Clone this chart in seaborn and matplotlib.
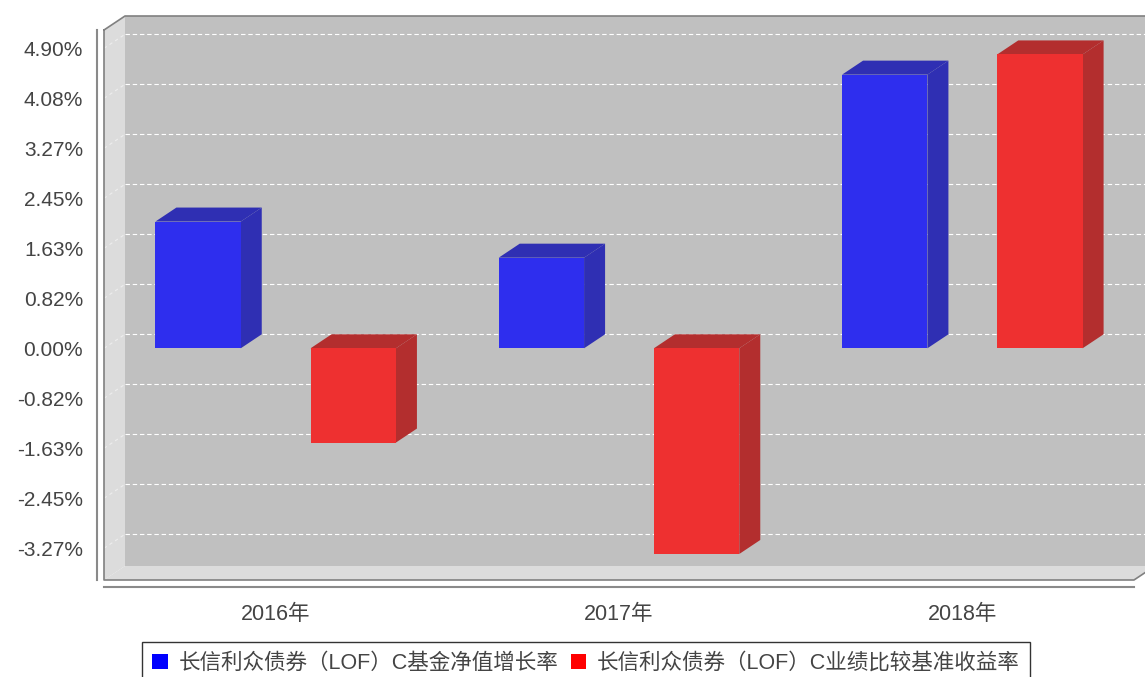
import matplotlib
matplotlib.use("Agg")
import matplotlib.pyplot as plt
import matplotlib.transforms as mtransforms
from matplotlib.patches import Polygon, Patch
from matplotlib.lines import Line2D
import numpy as np
import pandas as pd
import seaborn as sns

# data (percent)
years = ["2016年", "2017年", "2018年"]
fund_growth = [2.07, 1.48, 4.47]
benchmark = [-1.54, -3.36, 4.80]
series_names = ["长信利众债券（LOF）C基金净值增长率",
                "长信利众债券（LOF）C业绩比较基准收益率"]
y_ticks = [i * 4.90 / 6 for i in range(-4, 7)]

front_colors = ["#2E2EEE", "#EE3030"]
dark_colors = ["#2F2FB3", "#B32E2E"]
legend_colors = ["#0000FF", "#FF0000"]

df = pd.DataFrame({
    "year": years * 2,
    "value": fund_growth + benchmark,
    "series": [series_names[0]] * len(years) + [series_names[1]] * len(years),
})

sns.set_style("white")
plt.rcParams["font.family"] = ["Liberation Sans", "Noto Sans CJK SC"]

W, H = 1145, 677
fig = plt.figure(figsize=(W / 100, H / 100), dpi=100)
# front face of the 3d plot area, in pixels
left, right, top, bottom = 104, 1134, 30, 580
ax = fig.add_axes([left / W, (H - bottom) / H, (right - left) / W, (bottom - top) / H])
ax.set_facecolor("none")

sns.barplot(data=df, x="year", y="value", hue="series", palette=front_colors,
            width=0.904, gap=0.45, legend=False, ax=ax, linewidth=0, saturation=1)
ax.set_xlim(-0.5, 2.5)
ax.set_ylim(-3.785, 5.199)
ax.set_xlabel("")
ax.set_ylabel("")

# 3d depth offset: 21px right, 14px up
back = ax.transData + mtransforms.ScaledTranslation(0.21, 0.14, fig.dpi_scale_trans)
fl = ax.transData.transform
bk = back.transform
ident = mtransforms.IdentityTransform()


def face(pts, color, z):
    ax.add_patch(Polygon(pts, closed=True, facecolor=color, edgecolor="none",
                         transform=ident, zorder=z, clip_on=False))


x0, x1 = ax.get_xlim()
y0, y1 = ax.get_ylim()

# walls
face(bk([(x0, y0), (x1, y0), (x1, y1), (x0, y1)]), "#C0C0C0", 0)
face(np.vstack([fl([(x0, y0), (x0, y1)]), bk([(x0, y1), (x0, y0)])]), "#DCDCDC", 0.1)
face(np.vstack([fl([(x0, y0), (x1, y0)]), bk([(x1, y0), (x0, y0)])]), "#DCDCDC", 0.1)

# gridlines on back wall + faint ones on the side wall
ax.hlines(y_ticks, x0, x1, transform=back, colors="white", linestyles=(0, (4, 2.5)),
          lw=0.8, zorder=0.5, clip_on=False)
for t in y_ticks:
    p = np.vstack([fl([(x0, t)]), bk([(x0, t)])])
    ax.add_line(Line2D(p[:, 0], p[:, 1], transform=ident, color="white", alpha=0.5,
                       lw=0.8, ls=(0, (3, 3)), zorder=0.5, clip_on=False))

# 3d sides of the bars
for k, container in enumerate(ax.containers):
    for bar in container:
        bx, by, bw, bh = bar.get_x(), bar.get_y(), bar.get_width(), bar.get_height()
        ytop, ybot = max(by, by + bh), min(by, by + bh)
        xl, xr = bx, bx + bw
        face(np.vstack([fl([(xl, ytop), (xr, ytop)]), bk([(xr, ytop), (xl, ytop)])]),
             dark_colors[k], 2)
        face(np.vstack([fl([(xr, ybot), (xr, ytop)]), bk([(xr, ytop), (xr, ybot)])]),
             dark_colors[k], 2)
        bar.set_zorder(3)

# outline of the box
p = np.vstack([fl([(x0, y1)]), bk([(x0, y1), (x1, y1), (x1, y0)]),
               fl([(x1, y0), (x0, y0), (x0, y1)])])
ax.add_line(Line2D(p[:, 0], p[:, 1], transform=ident, color="#808080", lw=1.2,
                   zorder=4, clip_on=False))

# axes
for s in ["top", "right"]:
    ax.spines[s].set_visible(False)
for s in ["left", "bottom"]:
    ax.spines[s].set_position(("outward", 5))
    ax.spines[s].set_color("#8a8a8a")
    ax.spines[s].set_linewidth(1.5)
ax.set_yticks(y_ticks)
ax.set_yticklabels([f"{t:.2f}%" for t in y_ticks])
ax.tick_params(axis="y", direction="out", length=4, width=1, color="#8a8a8a",
               pad=6, labelsize=15, labelcolor="#444444")
ax.tick_params(axis="x", direction="out", length=3, width=1, color="#8a8a8a",
               pad=9, labelsize=15.5, labelcolor="#444444")

handles = [Patch(facecolor=c, edgecolor="none") for c in legend_colors]
leg = fig.legend(handles=handles, labels=series_names, loc="upper center",
                 bbox_to_anchor=(586 / W, (H - 642) / H), ncol=2, frameon=True,
                 fancybox=False, edgecolor="black", fontsize=15.5, labelcolor="#444444",
                 handlelength=0.7, handleheight=0.7, handletextpad=0.5,
                 columnspacing=0.6, borderpad=0.5, borderaxespad=0)
leg.get_frame().set_linewidth(1.0)

fig.savefig("out.png", dpi=100)
